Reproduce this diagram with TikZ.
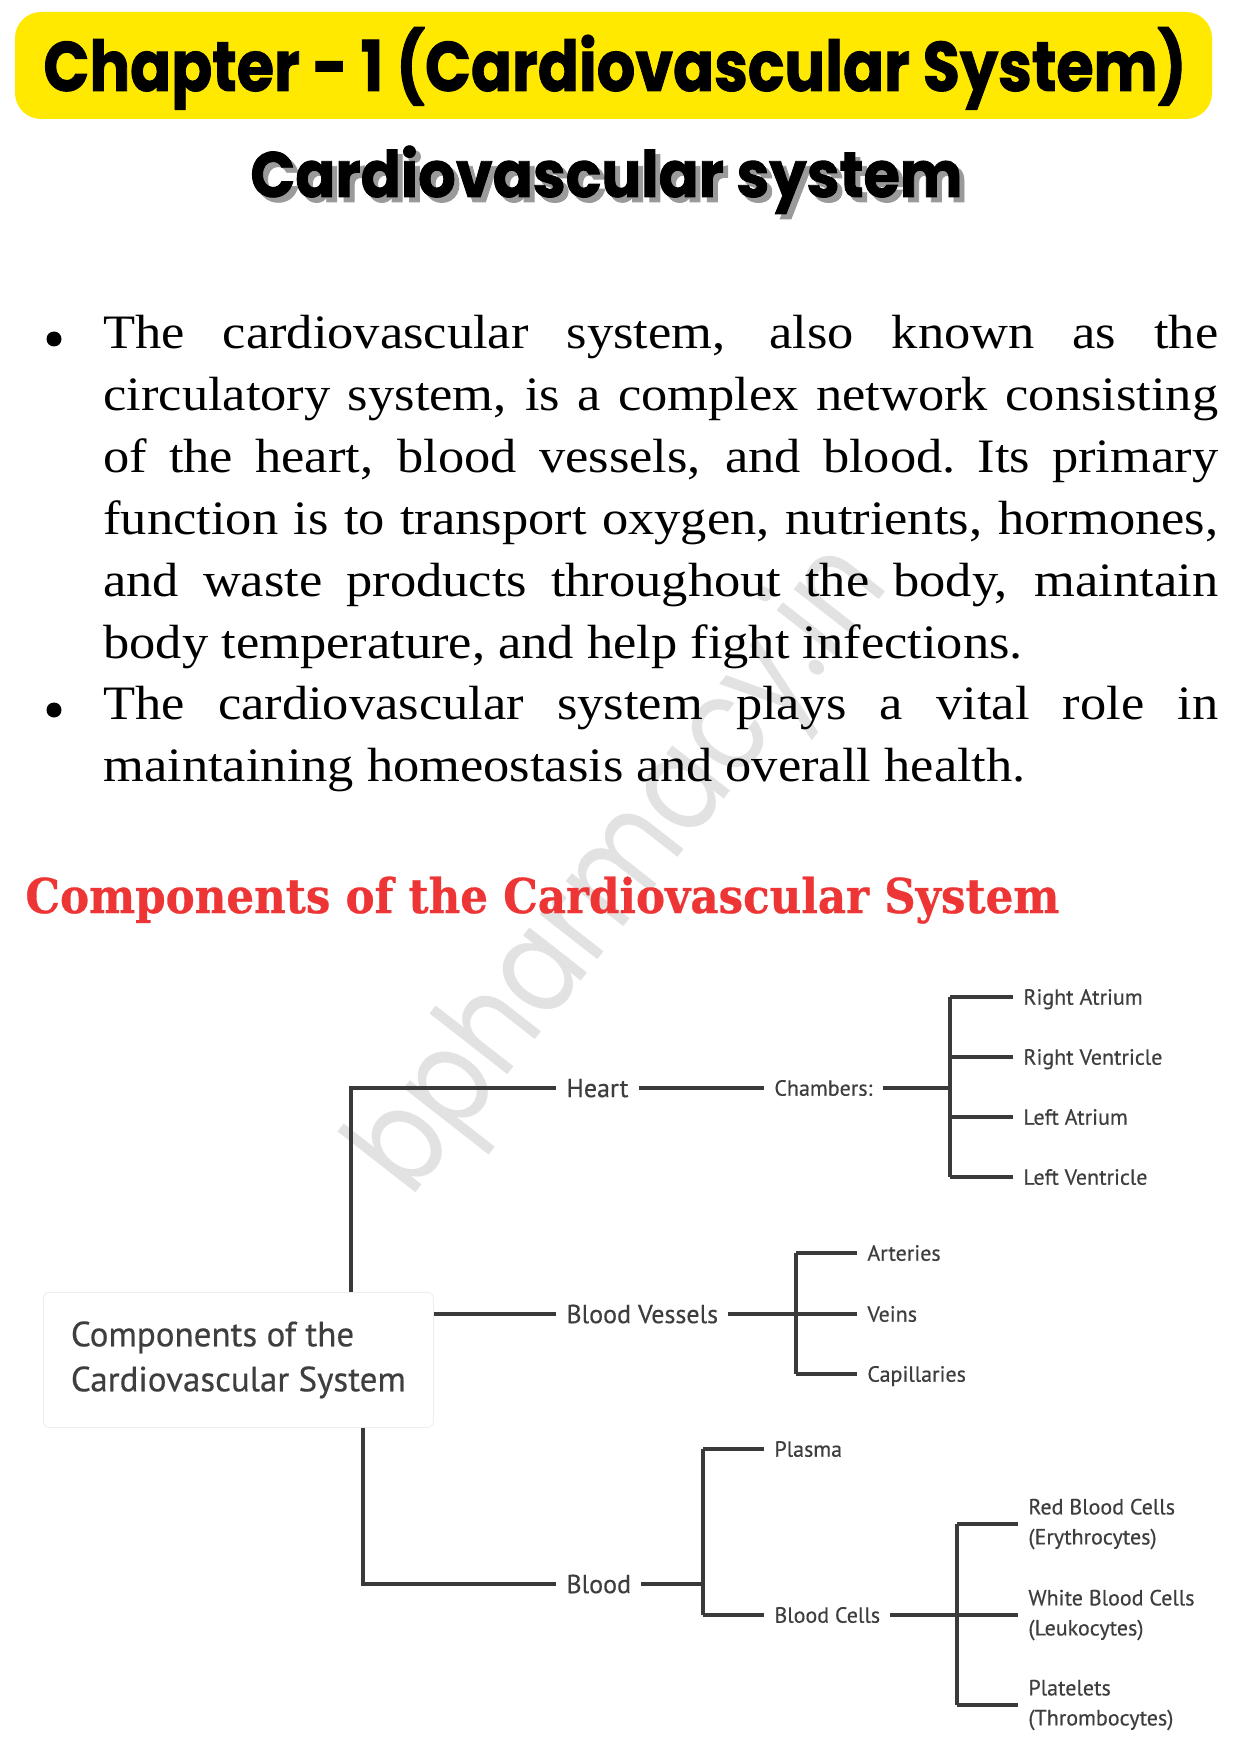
\documentclass[tikz,border=0pt]{standalone}
\usepackage{fontspec}
\usepackage{graphicx}
\setmainfont{Liberation Serif}
\newfontfamily\titlefont{Poppins}[FakeBold=1.4]
\newfontfamily\wmfont{Poppins}
\newfontfamily\headfont{DejaVu Serif}[FakeBold=0.6]
\newfontfamily\diagfont{PT Sans}[FakeBold=0.4]
\definecolor{yellowc}{HTML}{FFE900}
\definecolor{redc}{HTML}{EE3535}
\definecolor{linec}{HTML}{3A3A3A}
\definecolor{labelc}{HTML}{3E3E3E}
\definecolor{wmark}{HTML}{E2E2E2}
\definecolor{shadowc}{HTML}{9A9A9A}
\newcommand{\jline}[1]{\scalebox{1.093}[1]{\makebox[510pt][s]{#1}}}
\newcommand{\nline}[1]{\scalebox{1.093}[1]{#1}}
\begin{document}
\begin{tikzpicture}[x=0.5pt,y=-0.5pt,
  txt/.style={anchor=base west, inner sep=0pt},
  dotb/.style={circle, fill=black, inner sep=0pt, minimum size=7.5pt},
  conn/.style={draw=linec, line width=2.1pt},
  lblbig/.style={anchor=west, inner xsep=5pt, inner ysep=1pt, text=labelc,
    font=\diagfont\fontsize{13pt}{15pt}\selectfont, text height=9.1pt, text depth=0pt},
  lbl/.style={anchor=west, inner xsep=5pt, inner ysep=1pt, text=labelc,
    font=\diagfont\fontsize{11pt}{15pt}\selectfont, text height=7.7pt, text depth=0pt},
  lbltwo/.style={anchor=west, inner xsep=5pt, inner ysep=0pt, text=labelc, align=left,
    font=\diagfont\fontsize{11pt}{15pt}\selectfont},
  rootbox/.style={draw=black!7, fill=white, rounded corners=3pt, anchor=north west,
    minimum width=195pt, minimum height=67.5pt, inner xsep=10pt, align=left,
    text=labelc, font=\diagfont\fontsize{17.5pt}{22.5pt}\selectfont}
]
\useasboundingbox[fill=white] (0,0) rectangle (1241,1754);

% watermark
\node[rotate=52, inner sep=0pt, text=wmark] (wm) at (624,872)
  {\scalebox{1}[1.2]{\resizebox{390pt}{!}{\wmfont bpharmacy.in}}};

% title bar
\fill[yellowc, rounded corners=13pt] (15,12) rectangle (1212,119);
\node[txt] (title) at (43,91)
  {\resizebox{571.5pt}{\height}{\titlefont\bfseries\fontsize{35pt}{40pt}\selectfont Chapter - 1 (Cardiovascular System)}};

% subtitle with shadow
\node[txt, text=shadowc] (subsh) at (255,202)
  {\resizebox{356pt}{\height}{\titlefont\bfseries\fontsize{32pt}{36pt}\selectfont Cardiovascular system}};
\node[txt] (sub) at (250,197)
  {\resizebox{356pt}{\height}{\titlefont\bfseries\fontsize{32pt}{36pt}\selectfont Cardiovascular system}};

% bullets
\begin{scope}[every node/.append style={font=\fontsize{24pt}{31pt}\selectfont}]
\node[dotb] (d1) at (54,339) {};
\node[txt] (l1) at (103,349)   {\jline{The cardiovascular system, also known as the}};
\node[txt] (l2) at (103,410.8) {\jline{circulatory system, is a complex network consisting}};
\node[txt] (l3) at (103,472.6) {\jline{of the heart, blood vessels, and blood.\ Its primary}};
\node[txt] (l4) at (103,534.4) {\jline{function is to transport oxygen, nutrients, hormones,}};
\node[txt] (l5) at (103,596.2) {\jline{and waste products throughout the body, maintain}};
\node[txt] (l6) at (103,658)   {\nline{body temperature, and help fight infections.}};
\node[dotb] (d2) at (54,710) {};
\node[txt] (l7) at (103,719.8) {\jline{The cardiovascular system plays a vital role in}};
\node[txt] (l8) at (103,781.6) {\nline{maintaining homeostasis and overall health.}};
\end{scope}

% red heading
\node[txt, text=redc] (head) at (25,913)
  {\resizebox{517pt}{\height}{\headfont\bfseries\fontsize{24pt}{28pt}\selectfont Components of the Cardiovascular System}};

% diagram
\coordinate (v1) at (351,0);
\coordinate (v2) at (363,0);
\coordinate (cv) at (950,0);
\coordinate (bvv) at (796,0);
\coordinate (blv) at (703,0);
\coordinate (bcv) at (957,0);

\node[rootbox] (root) at (43,1292) {Components of the\\Cardiovascular System};

\node[lblbig] (heart) at (556,1088) {Heart};
\node[lbl] (chambers) at (764,1088) {Chambers:};
\node[lbl] (ra) at (1013,997) {Right Atrium};
\node[lbl] (rv) at (1013,1057) {Right Ventricle};
\node[lbl] (la) at (1013,1117) {Left Atrium};
\node[lbl] (lv) at (1013,1177) {Left Ventricle};

\node[lblbig] (bv) at (556,1314) {Blood Vessels};
\node[lbl] (art) at (857,1253) {Arteries};
\node[lbl] (vei) at (857,1314) {Veins};
\node[lbl] (cap) at (857,1374) {Capillaries};

\node[lblbig] (blood) at (556,1584) {Blood};
\node[lbl] (plasma) at (764,1449) {Plasma};
\node[lbl] (bcells) at (764,1615) {Blood Cells};
\node[lbltwo] (rbc) at (1018,1524) {Red Blood Cells\\(Erythrocytes)};
\node[lbltwo] (wbc) at (1018,1615) {White Blood Cells\\(Leukocytes)};
\node[lbltwo] (plt) at (1018,1705) {Platelets\\(Thrombocytes)};

% connectors
\draw[conn] (root.north -| v1) |- (heart.west);
\draw[conn] (heart.east) -- (chambers.west);
\draw[conn] (chambers.east) -- (chambers.east -| cv);
\draw[conn] (cv |- ra.west) -- (cv |- lv.west);
\foreach \n in {ra,rv,la,lv} \draw[conn] (cv |- \n.west) -- (\n.west);

\draw[conn] (root.east |- bv.west) -- (bv.west);
\draw[conn] (bv.east) -- (bvv |- bv.east);
\draw[conn] (bvv |- art.west) -- (bvv |- cap.west);
\foreach \n in {art,vei,cap} \draw[conn] (bvv |- \n.west) -- (\n.west);

\draw[conn] (root.south -| v2) |- (blood.west);
\draw[conn] (blood.east) -- (blood.east -| blv);
\draw[conn] (blv |- plasma.west) -- (blv |- bcells.west);
\foreach \n in {plasma,bcells} \draw[conn] (blv |- \n.west) -- (\n.west);

\draw[conn] (bcells.east) -- (bcells.east -| bcv);
\draw[conn] (bcv |- rbc.west) -- (bcv |- plt.west);
\foreach \n in {rbc,wbc,plt} \draw[conn] (bcv |- \n.west) -- (\n.west);
\end{tikzpicture}
\end{document}
